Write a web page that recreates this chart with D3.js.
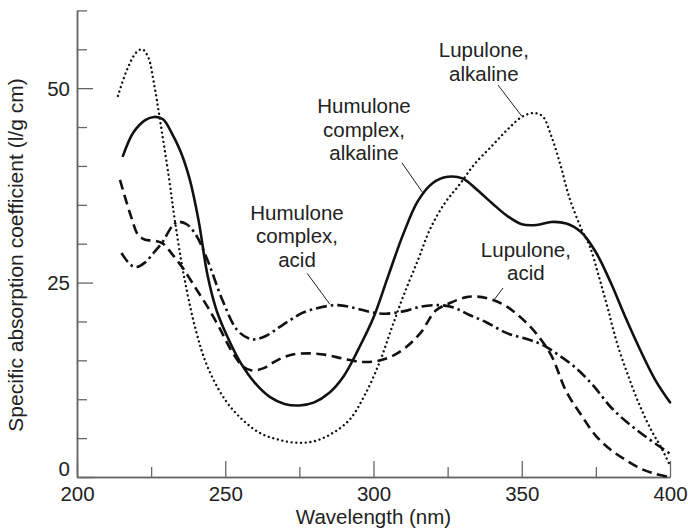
<!DOCTYPE html>
<html>
<head>
<meta charset="utf-8">
<script src="https://cdn.jsdelivr.net/npm/d3@7"></script>
<style>
  html, body { margin: 0; padding: 0; background: #fff; }
  svg { display: block; }
  text { font-family: "Liberation Sans", Arial, Helvetica, sans-serif; fill: #222; }
</style>
</head>
<body>
<svg id="chart" width="688" height="529"></svg>
<script>
// ---------- data ----------
const xTicksMajor = [200, 250, 300, 350, 400];
const xTicksMinor = [225, 275, 325, 375];
const yTicksMajor = [0, 25, 50];
const yTicksMinor = [5, 10, 15, 20, 30, 35, 40, 45, 55, 60];

// Humulone complex, alkaline (solid)
const humAlkNm  = [215.5, 219, 223, 226, 229, 232, 235, 238, 241, 244, 247, 251, 255, 260, 265, 270, 275, 280, 285, 290, 295, 300, 305, 310, 315, 320, 325, 330, 335, 340, 345, 350, 355, 360, 365, 370, 375, 380, 385, 390, 395, 400];
const humAlkVal = [41.3, 44.3, 45.9, 46.3, 46.0, 44.2, 41.8, 38.3, 33.0, 26.0, 21.5, 17.8, 14.8, 12.1, 10.3, 9.4, 9.2, 9.6, 10.8, 13.0, 16.5, 20.5, 25.9, 31.2, 35.5, 37.8, 38.6, 38.4, 36.9, 35.2, 33.6, 32.5, 32.4, 32.8, 32.6, 31.5, 28.9, 25.0, 20.5, 16.3, 12.5, 9.6];

// Lupulone, alkaline (dotted)
const lupAlkNm  = [213.8, 217, 220, 222, 224, 226, 228, 231, 233, 236, 240, 244, 250, 256, 262, 268, 274, 280, 286, 292, 297, 302, 306, 310, 315, 319, 324, 329, 334, 340, 345, 350, 354, 357, 360, 363, 366, 370, 373, 376, 379, 382, 386, 390, 394, 397, 400];
const lupAlkVal = [49.0, 52.5, 54.6, 55.0, 54.0, 50.5, 45.9, 38.5, 33.0, 26.0, 19.0, 14.2, 9.9, 7.3, 5.6, 4.8, 4.4, 4.6, 5.6, 7.4, 10.5, 14.7, 19.0, 23.2, 27.9, 31.8, 35.2, 37.6, 40.2, 42.6, 44.6, 46.3, 46.8, 46.4, 43.8, 40.2, 36.0, 32.0, 29.6, 25.8, 21.7, 17.4, 12.9, 9.0, 5.8, 3.8, 1.5];

// Humulone complex, acid (dash-dot)
const humAcidNm  = [215, 218, 220, 223, 226, 229, 232, 234, 237, 240, 244, 249, 254, 258, 260, 264, 268, 272, 276, 282, 288, 294, 299, 304, 310, 316, 322, 327, 332, 338, 345, 352, 357, 362, 368, 374, 380, 385, 390, 395, 400];
const humAcidVal = [28.8, 27.3, 27.0, 27.6, 28.9, 30.3, 32.2, 32.8, 32.5, 31.2, 27.9, 22.8, 18.9, 17.8, 17.7, 18.2, 19.2, 20.2, 21.1, 21.8, 22.1, 21.7, 21.2, 21.0, 21.3, 21.9, 22.1, 21.8, 20.9, 19.9, 18.5, 17.7, 17.0, 15.8, 14.1, 11.8, 9.0, 7.2, 5.7, 4.3, 3.0];

// Lupulone, acid (dashed)
const lupAcidNm  = [214.5, 216.5, 218.5, 220.5, 223, 226, 229, 232, 236, 240, 244, 248, 252, 256, 259, 263, 267, 272, 278, 284, 290, 296, 301, 306, 311, 316, 321, 326, 331, 335, 340, 345, 350, 355, 360, 365, 370, 375, 380, 385, 390, 395, 400];
const lupAcidVal = [38.2, 35.6, 33.2, 31.2, 30.5, 30.4, 30.0, 28.7, 26.7, 24.3, 21.9, 19.2, 16.3, 14.2, 13.7, 14.0, 14.9, 15.7, 15.9, 15.7, 15.2, 14.8, 14.9, 15.5, 16.7, 18.6, 21.4, 22.4, 23.1, 23.2, 22.8, 21.9, 20.4, 18.4, 15.6, 11.0, 8.0, 5.3, 3.5, 2.2, 1.1, 0.4, 0.0];

// annotation labels (anchor in data units) and leader lines
const labelLines = [
  ["Lupulone,", "alkaline"],
  ["Humulone", "complex,", "alkaline"],
  ["Humulone", "complex,", "acid"],
  ["Lupulone,", "acid"]
];
const labelNm  = [337.2, 296.8, 274.2, 351.4];
const labelVal = [54.0, 46.8, 33.05, 28.3];
const leaderFrom = [[342.0, 50.4], [309.6, 40.4], [277.6, 26.2], [343.7, 24.3]];
const leaderTo   = [[350.0, 46.4], [316.7, 36.5], [285.3, 22.2], [340.3, 22.6]];

// ---------- chart ----------
const svg = d3.select("#chart");
const x = d3.scaleLinear().domain([200, 400]).range([77, 670]);
const y = d3.scaleLinear().domain([0, 60]).range([477, 10.4]);

const axisColor = "#666";
const FS = 20.5;

// Y axis
const yMinor = svg.append("g").attr("transform", `translate(${x(200)},0)`)
  .call(d3.axisLeft(y).tickValues(yTicksMinor).tickSize(-10).tickSizeOuter(0).tickFormat(""));
const yMajor = svg.append("g").attr("transform", `translate(${x(200)},0)`)
  .call(d3.axisLeft(y).tickValues(yTicksMajor).tickSize(-16).tickSizeOuter(0).tickPadding(7).tickFormat(d3.format("d")));
// X axis
const xMinor = svg.append("g").attr("transform", `translate(0,${y(0)})`)
  .call(d3.axisBottom(x).tickValues(xTicksMinor).tickSize(-10).tickSizeOuter(0).tickFormat(""));
const xMajor = svg.append("g").attr("transform", `translate(0,${y(0)})`)
  .call(d3.axisBottom(x).tickValues(xTicksMajor).tickSize(-16).tickSizeOuter(0).tickPadding(9).tickFormat(d3.format("d")));

[yMinor, yMajor, xMinor, xMajor].forEach(g => {
  g.selectAll("path.domain").attr("stroke", axisColor).attr("stroke-width", 1.5);
  g.selectAll(".tick line").attr("stroke", axisColor).attr("stroke-width", 1.3);
  g.selectAll(".tick text").attr("font-size", FS).attr("fill", "#222")
    .attr("font-family", "Liberation Sans, Arial, sans-serif");
});
yMajor.selectAll(".tick text").attr("dy", d => d === 0 ? "-0.05em" : "0.36em");

// axis titles
svg.append("text")
  .attr("x", (x(200) + x(400)) / 2).attr("y", 524)
  .attr("text-anchor", "middle").attr("font-size", FS)
  .text("Wavelength (nm)");
svg.append("text")
  .attr("transform", `translate(23,${255}) rotate(-90)`)
  .attr("text-anchor", "middle").attr("font-size", 21)
  .text("Specific absorption coefficient (l/g cm)");

// series
const line = d3.line()
  .x(d => x(d[0])).y(d => y(d[1]))
  .curve(d3.curveCatmullRom.alpha(0.5));

const series = [
  { nm: lupAcidNm, val: lupAcidVal, dash: "10 5.5", width: 2.6, cap: "butt" },
  { nm: humAcidNm, val: humAcidVal, dash: "11 4 2.5 4", width: 2.6, cap: "butt" },
  { nm: lupAlkNm, val: lupAlkVal, dash: "0.01 4.7", width: 2.4, cap: "round" },
  { nm: humAlkNm, val: humAlkVal, dash: null, width: 2.6, cap: "round" }
];

series.forEach(s => {
  const pts = s.nm.map((n, i) => [n, s.val[i]]);
  svg.append("path")
    .attr("d", line(pts))
    .attr("fill", "none")
    .attr("stroke", "#111")
    .attr("stroke-width", s.width)
    .attr("stroke-linecap", s.cap)
    .attr("stroke-dasharray", s.dash);
});

// annotations
const LH = 23.5;
labelLines.forEach((lines, i) => {
  const t = svg.append("text")
    .attr("text-anchor", "middle")
    .attr("font-size", FS);
  lines.forEach((ln, j) => {
    t.append("tspan")
      .attr("x", x(labelNm[i]))
      .attr("y", y(labelVal[i]) + j * LH)
      .text(ln);
  });
  svg.append("line")
    .attr("x1", x(leaderFrom[i][0])).attr("y1", y(leaderFrom[i][1]))
    .attr("x2", x(leaderTo[i][0])).attr("y2", y(leaderTo[i][1]))
    .attr("stroke", "#222").attr("stroke-width", 1);
});
</script>
</body>
</html>
